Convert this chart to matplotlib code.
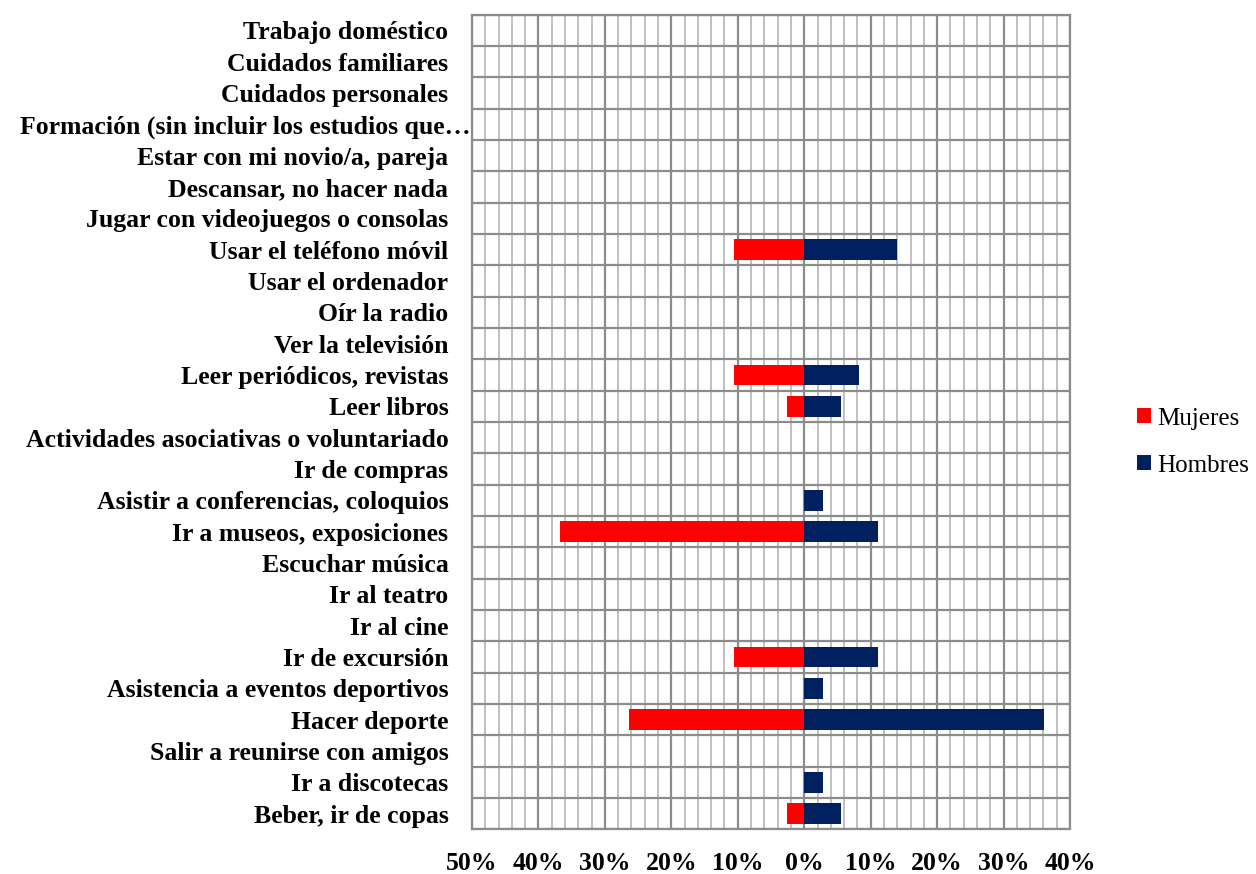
import matplotlib
matplotlib.use("Agg")
import matplotlib.pyplot as plt
from matplotlib.patches import Patch
from matplotlib.ticker import MultipleLocator, FuncFormatter
from matplotlib.transforms import ScaledTranslation
import numpy as np

categories = [
    "Trabajo doméstico",
    "Cuidados familiares",
    "Cuidados personales",
    "Formación (sin incluir los estudios que…",
    "Estar con mi novio/a, pareja",
    "Descansar, no hacer nada",
    "Jugar con videojuegos o consolas",
    "Usar el teléfono móvil",
    "Usar el ordenador",
    "Oír la radio",
    "Ver la televisión",
    "Leer periódicos, revistas",
    "Leer libros",
    "Actividades asociativas o voluntariado",
    "Ir de compras",
    "Asistir a conferencias, coloquios",
    "Ir a museos, exposiciones",
    "Escuchar música",
    "Ir al teatro",
    "Ir al cine",
    "Ir de excursión",
    "Asistencia a eventos deportivos",
    "Hacer deporte",
    "Salir a reunirse con amigos",
    "Ir a discotecas",
    "Beber, ir de copas",
]
mujeres = [0, 0, 0, 0, 0, 0, 0, 10.5, 0, 0, 0, 10.5, 2.6, 0, 0, 0, 36.8, 0, 0, 0, 10.5, 0, 26.3, 0, 0, 2.6]
hombres = [0, 0, 0, 0, 0, 0, 0, 13.9, 0, 0, 0, 8.3, 5.6, 0, 0, 2.8, 11.1, 0, 0, 0, 11.1, 2.8, 36.1, 0, 2.8, 5.6]

serif = ["Liberation Serif", "DejaVu Serif"]

fig = plt.figure(figsize=(12.56, 8.74), dpi=100)
ax = fig.add_axes([472/1256, 1 - 829.3/874, (1070-472)/1256, (829.3-14.7)/874])

n = len(categories)
y = np.arange(n)[::-1]
h = 0.66
ax.barh(y, [-v for v in mujeres], height=h, color="#FF0000", edgecolor="none", zorder=3)
ax.barh(y, hombres, height=h, color="#002060", edgecolor="none", zorder=3)

ax.set_xlim(-50, 40)
ax.set_ylim(-0.5, n - 0.5)
ax.xaxis.set_major_locator(MultipleLocator(10))
ax.xaxis.set_minor_locator(MultipleLocator(2))
ax.xaxis.set_major_formatter(FuncFormatter(lambda v, p: f"{abs(int(round(v)))}%"))
ax.set_yticks(y)
ax.set_yticklabels(categories)
ax.set_yticks(np.arange(-0.5, n, 1), minor=True)

ax.grid(which="minor", axis="x", color="#C0C0C0", linewidth=1.4, zorder=1)
ax.grid(which="major", axis="x", color="#8C8C8C", linewidth=1.6, zorder=2)
ax.grid(which="minor", axis="y", color="#8C8C8C", linewidth=1.6, zorder=2)
ax.grid(which="major", axis="y", visible=False)

for s in ax.spines.values():
    s.set_color("#8C8C8C")
    s.set_linewidth(1.6)

ax.tick_params(which="both", length=0)
ax.tick_params(axis="x", pad=16)
ax.tick_params(axis="y", pad=17)
for lab in ax.get_xticklabels():
    lab.set_fontfamily(serif)
    lab.set_fontweight("bold")
    lab.set_fontsize(18.5)
for lab in ax.get_yticklabels():
    lab.set_fontfamily(serif)
    lab.set_fontweight("bold")
    lab.set_fontsize(18.5)
    if lab.get_text().startswith("Formación"):
        lab.set_transform(lab.get_transform() + ScaledTranslation(0.22, 0, fig.dpi_scale_trans))

handles = [Patch(facecolor="#FF0000", edgecolor="none", label="Mujeres"),
           Patch(facecolor="#002060", edgecolor="none", label="Hombres")]
fig.legend(handles=handles, loc="center left", bbox_to_anchor=(1137/1256, 1 - 442/874),
           frameon=False, prop={"family": serif, "size": 18}, borderpad=0, borderaxespad=0,
           handlelength=0.55, handleheight=0.55, handletextpad=0.25, labelspacing=1.0)

fig.savefig("out.png", dpi=100)
